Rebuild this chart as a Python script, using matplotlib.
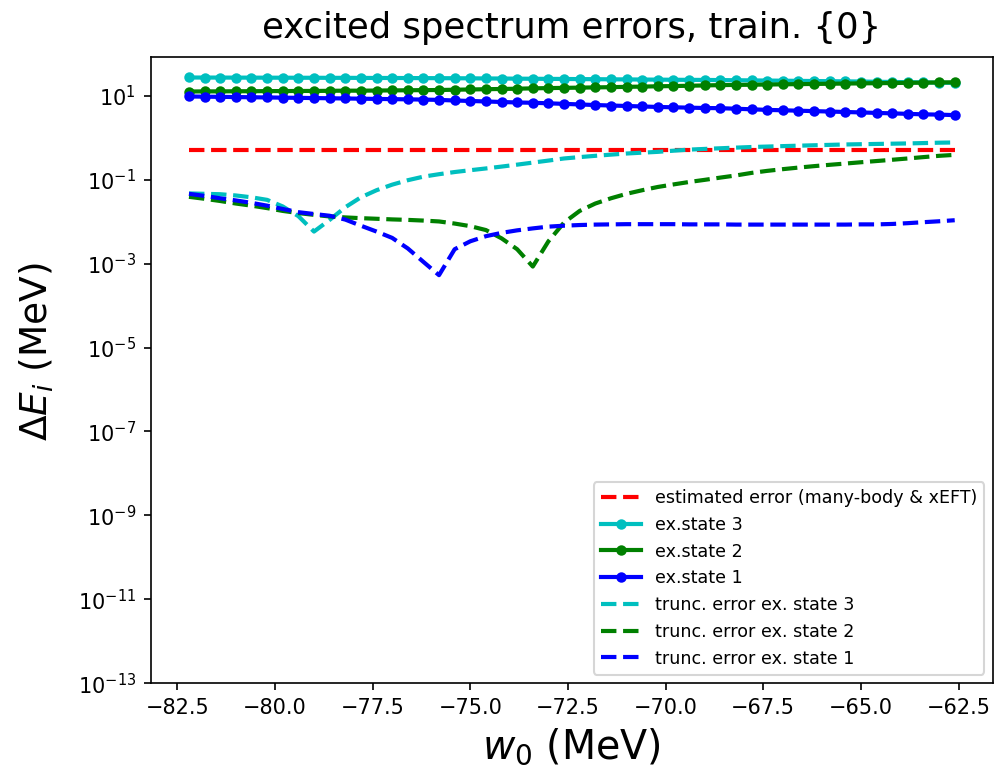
import matplotlib
matplotlib.use("Agg")
import matplotlib.pyplot as plt
import numpy as np

# oscillator parameter grid (MeV)
w0 = np.linspace(-82.2, -62.6, 50)

est_error = 0.52

ex_state_3 = [27.2, 27.1, 27.1, 27.0, 27.0, 26.9, 26.9, 26.8, 26.8, 26.7,
              26.7, 26.6, 26.5, 26.5, 26.4, 26.3, 26.2, 26.1, 26.0, 25.8,
              25.7, 25.5, 25.4, 25.2, 25.1, 24.9, 24.8, 24.6, 24.5, 24.3,
              24.2, 24.0, 23.9, 23.8, 23.6, 23.4, 23.2, 23.0, 22.8, 22.6,
              22.4, 22.2, 22.0, 21.8, 21.5, 21.3, 21.0, 20.8, 20.5, 20.2]
ex_state_2 = [12.6, 12.7, 12.7, 12.8, 12.8, 12.9, 12.9, 13.0, 13.0, 13.1,
              13.2, 13.2, 13.3, 13.4, 13.5, 13.6, 13.7, 13.9, 14.1, 14.3,
              14.5, 14.7, 15.0, 15.2, 15.4, 15.6, 15.8, 16.0, 16.3, 16.5,
              16.8, 17.0, 17.3, 17.6, 17.9, 18.1, 18.3, 18.5, 18.7, 18.9,
              19.1, 19.3, 19.5, 19.7, 19.9, 20.1, 20.3, 20.5, 20.7, 20.9]
ex_state_1 = [9.6, 9.5, 9.4, 9.3, 9.2, 9.1, 9.0, 8.9, 8.8, 8.7,
              8.6, 8.5, 8.4, 8.3, 8.2, 8.1, 7.95, 7.7, 7.5, 7.3,
              7.1, 6.9, 6.8, 6.6, 6.4, 6.2, 6.0, 5.85, 5.7, 5.55,
              5.4, 5.3, 5.2, 5.1, 5.05, 4.9, 4.75, 4.6, 4.5, 4.4,
              4.3, 4.2, 4.1, 4.0, 3.9, 3.8, 3.7, 3.6, 3.55, 3.45]

trunc_3 = [0.047, 0.046, 0.045, 0.042, 0.038, 0.033, 0.023, 0.0135, 0.0058, 0.011,
           0.022, 0.038, 0.056, 0.076, 0.097, 0.118, 0.135, 0.152, 0.168, 0.185,
           0.205, 0.228, 0.255, 0.285, 0.32, 0.345, 0.37, 0.395, 0.42, 0.44,
           0.46, 0.49, 0.52, 0.54, 0.56, 0.58, 0.60, 0.615, 0.63, 0.645,
           0.66, 0.675, 0.69, 0.70, 0.71, 0.72, 0.73, 0.745, 0.76, 0.77]
trunc_2 = [0.039, 0.035, 0.031, 0.027, 0.024, 0.021, 0.018, 0.016, 0.0145, 0.0133,
           0.0126, 0.0121, 0.0117, 0.0113, 0.0110, 0.0106, 0.0101, 0.0090, 0.0078, 0.0063,
           0.0040, 0.0022, 0.00085, 0.0034, 0.0095, 0.018, 0.027, 0.036, 0.046, 0.056,
           0.067, 0.077, 0.088, 0.099, 0.112, 0.126, 0.145, 0.162, 0.178, 0.194,
           0.21, 0.226, 0.242, 0.26, 0.278, 0.298, 0.32, 0.345, 0.37, 0.39]
trunc_1 = [0.046, 0.041, 0.036, 0.032, 0.028, 0.024, 0.020, 0.0168, 0.0152, 0.0138,
           0.0112, 0.0080, 0.0058, 0.0041, 0.0023, 0.0011, 0.00053, 0.0022, 0.0034, 0.0045,
           0.0054, 0.0062, 0.0069, 0.0076, 0.0080, 0.0083, 0.0085, 0.0086, 0.0087, 0.0087,
           0.0087, 0.0087, 0.0086, 0.0086, 0.0086, 0.0085, 0.0085, 0.0085, 0.0085, 0.0085,
           0.0085, 0.0085, 0.0085, 0.0086, 0.0086, 0.0088, 0.0092, 0.0097, 0.0102, 0.0108]


def main():
    fig = plt.figure(figsize=(6.64, 5.107), dpi=150)
    ax = fig.add_axes([0.1513, 0.108, 0.8457, 0.8176])

    ax.plot(w0, np.full(len(w0), est_error), 'r--', lw=2, label='estimated error (many-body & xEFT)')
    ax.plot(w0, ex_state_3, 'c-o', lw=2, markersize=4, label='ex.state 3')
    ax.plot(w0, ex_state_2, 'g-o', lw=2, markersize=4, label='ex.state 2')
    ax.plot(w0, ex_state_1, 'b-o', lw=2, markersize=4, label='ex.state 1')
    ax.plot(w0, trunc_3, 'c--', lw=2, label='trunc. error ex. state 3')
    ax.plot(w0, trunc_2, 'g--', lw=2, label='trunc. error ex. state 2')
    ax.plot(w0, trunc_1, 'b--', lw=2, label='trunc. error ex. state 1')

    ax.set_yscale('log')
    ax.set_ylim(1e-13, 84)
    ax.set_yticks([10.0 ** k for k in range(-13, 2, 2)])
    ax.minorticks_off()
    ax.set_title('excited spectrum errors, train. {0}', fontsize=17, pad=9)
    ax.set_xlabel('$w_0$ (MeV)', fontsize=19)
    ax.set_ylabel(r'$\Delta E_i$ (MeV)', fontsize=18)
    ax.yaxis.set_label_coords(-0.112, 0.53)
    ax.legend(loc='lower right', fontsize=8.4, handlelength=2.3)

    fig.savefig('out.png', dpi=150)


if __name__ == '__main__':
    main()
